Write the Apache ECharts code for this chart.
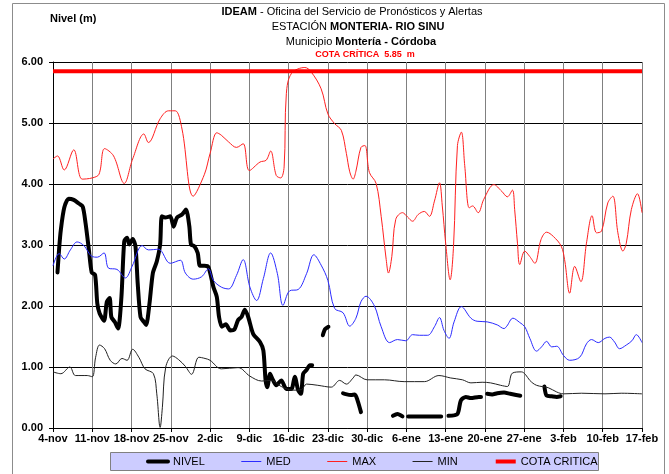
<!DOCTYPE html>
<html>
<head>
<meta charset="utf-8">
<script src="https://cdn.jsdelivr.net/npm/echarts@6/dist/echarts.min.js"></script>
<style>
html,body{margin:0;padding:0;background:#fff;}
#chart{width:669px;height:474px;}
</style>
</head>
<body>
<div id="chart"></div>
<script>
// x values are days counted from 4-nov
const tickLabels = ['4-nov','11-nov','18-nov','25-nov','2-dic','9-dic','16-dic','23-dic','30-dic','6-ene','13-ene','20-ene','27-ene','3-feb','10-feb','17-feb'];
const yTicks = [0, 1, 2, 3, 4, 5, 6];
const cotaCritica = 5.85;

const nivel = [[0.8,2.55],[1.1,2.95],[1.4,3.25],[2,3.61],[2.8,3.76],[3.7,3.74],[4.6,3.68],[5.3,3.63],[5.8,3.36],[6.4,2.92],[6.9,2.55],[7.5,2.51],[7.9,2.04],[8.3,1.88],[9.1,1.76],[9.6,2.07],[10.1,2.13],[10.4,1.82],[11,1.74],[11.6,1.63],[12.2,2.15],[12.7,3.06],[13.2,3.12],[13.6,3.01],[14.2,3.10],[14.7,2.98],[15.1,2.37],[15.6,1.82],[16.2,1.74],[16.6,1.69],[17.2,2.04],[17.8,2.54],[18.5,2.73],[19.1,3.01],[19.4,3.47],[20,3.45],[20.9,3.47],[21.5,3.30],[22.1,3.45],[23,3.50],[23.7,3.58],[24.3,3.31],[24.6,3.01],[25.2,2.98],[25.8,2.87],[26.2,2.66],[27,2.66],[27.7,2.64],[28.6,2.31],[29.2,2.15],[29.6,1.82],[30.1,1.66],[30.8,1.70],[31.6,1.60],[32.3,1.61],[33,1.77],[33.6,1.82],[34.2,1.94],[34.8,1.82],[35.7,1.54],[36.9,1.41],[37.5,1.27],[37.9,0.78],[38.2,0.67],[38.7,0.89],[39.1,0.81],[39.8,0.70],[40.7,0.78],[41.6,0.64],[42.5,0.64],[43.1,0.84],[43.7,0.62],[44.2,0.56],[44.6,0.89],[45.2,0.95],[45.8,1.03],[46.2,1.03],
  [47,'-'],
  [48.1,1.52],[48.5,1.62],[49.1,1.66],
  [50,'-'],
  [51.7,0.57],[52.0,0.56],[53.1,0.54],[53.8,0.55],[54.3,0.45],[54.9,0.26],
  [57,'-'],
  [60.6,0.20],[61.4,0.23],[62.3,0.19],
  [62.8,'-'],
  [63.3,0.19],[66,0.19],[69.2,0.19],
  [70,'-'],
  [70.5,0.20],[72.1,0.23],[72.7,0.45],[73.6,0.51],[74.5,0.49],[75.9,0.51],[76.3,0.51],
  [77,'-'],
  [77.4,0.56],[78.3,0.55],[79.2,0.57],[80.4,0.58],[81.5,0.56],[83.3,0.53],
  [85,'-'],
  [87.6,0.68],[88,0.53],[88.9,0.52],[89.8,0.51],[90.5,0.52]];

const med = [[0,2.66],[1.1,2.86],[2,2.77],[3.1,2.92],[4.3,3.05],[5.5,2.99],[7,2.81],[7.9,2.80],[9.1,2.87],[9.9,2.62],[11.4,2.60],[12.9,2.46],[14.1,2.65],[15.9,2.99],[17,2.92],[18.8,2.93],[20.9,2.70],[22.7,2.75],[23.6,2.54],[25,2.44],[26.5,2.48],[27.7,2.61],[28.6,2.42],[30,2.31],[31.3,2.28],[32.7,2.50],[33.9,2.76],[35.1,2.31],[36.3,2.09],[37.5,2.45],[38.8,2.87],[40,2.53],[41,2.01],[42.2,2.25],[43.7,2.27],[45.2,2.53],[46.5,2.84],[47.8,2.67],[49,2.42],[50.2,1.96],[51.7,1.89],[52.9,1.67],[54,1.80],[54.9,2.07],[55.8,2.16],[57.3,2.00],[58.5,1.66],[60,1.40],[61.4,1.45],[62.9,1.43],[64.1,1.53],[65.3,1.52],[66.8,1.52],[68,1.66],[68.9,1.81],[69.7,1.60],[70.6,1.47],[71.5,1.74],[72.8,1.99],[74.5,1.80],[75.6,1.75],[77.4,1.74],[79.2,1.69],[80.4,1.63],[80.9,1.67],[82,1.80],[83.2,1.73],[84.1,1.66],[85,1.47],[86.2,1.26],[87.1,1.33],[88,1.42],[88.9,1.33],[89.8,1.34],[91,1.19],[92.1,1.11],[93.9,1.16],[95.1,1.38],[96,1.45],[97.2,1.40],[98.4,1.47],[99.2,1.49],[100.1,1.41],[101,1.30],[102.2,1.36],[103.2,1.43],[104,1.53],[105,1.40]];

const max = [[0,4.41],[0.8,4.46],[2,4.23],[3.7,4.56],[5.2,4.08],[7,4.10],[8.2,4.16],[9.2,4.58],[10.8,4.46],[12.7,4.01],[14.2,4.41],[16.2,4.82],[17,4.68],[19.1,5.07],[20.6,5.20],[21.8,5.20],[23,4.90],[25,3.80],[27,4.16],[28,4.50],[29.2,4.84],[30,4.80],[31.3,4.69],[32.7,4.60],[33.9,4.66],[35,4.22],[36.9,4.36],[38,4.39],[38.8,4.54],[39.8,4.14],[40.6,4.10],[41.2,4.28],[41.6,5.48],[42.5,5.81],[44.9,5.91],[46,5.84],[47.8,5.56],[49,5.15],[50.2,4.99],[51.4,4.88],[52.3,4.50],[52.9,4.20],[53.5,4.08],[54,4.21],[54.9,4.60],[55.6,4.63],[56.4,4.19],[57.6,4.01],[58.5,3.47],[59.4,2.76],[59.8,2.54],[60.4,2.81],[61.1,3.42],[62.3,3.53],[63.2,3.46],[64.1,3.39],[65.1,3.50],[66.2,3.55],[67.1,3.47],[68,3.72],[68.9,4.02],[69.4,3.64],[70,3.03],[70.8,2.43],[71.4,2.98],[72.1,4.63],[72.8,4.85],[73.4,4.30],[74.2,3.61],[74.8,3.64],[75.8,3.53],[76.8,3.75],[78.6,3.99],[80,3.88],[81,3.79],[81.9,3.90],[82.3,3.58],[82.8,3.03],[83.2,2.68],[84.1,2.90],[85,2.81],[85.9,2.70],[87,3.09],[88,3.21],[89.2,3.14],[90.6,2.98],[91.2,2.76],[92.1,2.21],[93,2.65],[94.1,2.40],[95.1,3.03],[96.1,3.48],[96.9,3.20],[97.8,3.23],[98.9,3.69],[99.8,3.80],[100.7,3.20],[101.6,2.90],[102.2,3.03],[103.1,3.58],[104.2,3.84],[105,3.53]];

const min = [[0,0.92],[1.4,0.89],[3,1.00],[4,0.86],[6.1,0.86],[7,0.84],[7.6,1.16],[8.3,1.36],[9.2,1.30],[10.2,1.11],[11.2,1.05],[12.3,1.14],[13.2,1.11],[14.2,1.29],[15.3,1.16],[16.4,0.97],[17.9,0.89],[18.5,0.56],[19.1,0.01],[19.5,0.34],[20.1,1.00],[21.3,1.18],[22.4,1.12],[23.6,1.01],[24.7,0.88],[26,1.16],[27.1,1.14],[28,1.11],[30,0.97],[33,0.99],[35.1,0.85],[37.2,0.77],[38.9,0.78],[40.7,0.68],[42.8,0.62],[44.3,0.63],[45.2,0.72],[47.2,0.70],[49.6,0.67],[51.1,0.78],[52.3,0.72],[53.5,0.82],[54,0.87],[56,0.79],[59.1,0.79],[62.6,0.76],[66.2,0.76],[68.8,0.86],[70.9,0.82],[73,0.79],[74.5,0.74],[76.5,0.75],[78,0.74],[79.8,0.70],[81,0.68],[81.9,0.90],[83.5,0.92],[84.2,0.88],[85,0.78],[86.2,0.70],[88.3,0.66],[89.8,0.59],[91,0.56],[94.2,0.57],[98.4,0.56],[101.3,0.57],[105,0.56]];

const cotaDays = [0, 105];

const FONT = '"Liberation Sans", Arial, sans-serif';
const chart = echarts.init(document.getElementById('chart'), null, {renderer: 'canvas'});

const option = {
  animation: false,
  backgroundColor: '#ffffff',
  textStyle: {fontFamily: FONT},
  grid: {left: 53, right: 27, top: 62, bottom: 46, containLabel: false},
  graphic: [
    {type: 'rect', z: -10, shape: {x: 12.5, y: 3.5, width: 652, height: 490}, style: {fill: 'none', stroke: '#8c8c8c', lineWidth: 1}},
    {type: 'text', left: 50, top: 13, style: {text: 'Nivel (m)', font: 'bold 11px ' + FONT, fill: '#000'}},
    {type: 'text', x: 352, y: 12, style: {text: '{b|IDEAM} - Oficina del Servicio de Pronósticos y Alertas', align: 'center', verticalAlign: 'middle', font: '11px ' + FONT, fill: '#000', rich: {b: {fontWeight: 'bold', fontSize: 11, fontFamily: FONT}}}},
    {type: 'text', x: 358, y: 27, style: {text: 'ESTACIÓN {b|MONTERIA- RIO SINU}', align: 'center', verticalAlign: 'middle', font: '11px ' + FONT, fill: '#000', rich: {b: {fontWeight: 'bold', fontSize: 11, fontFamily: FONT}}}},
    {type: 'text', x: 361, y: 42, style: {text: 'Municipio {b|Montería - Córdoba}', align: 'center', verticalAlign: 'middle', font: '11px ' + FONT, fill: '#000', rich: {b: {fontWeight: 'bold', fontSize: 11, fontFamily: FONT}}}},
    {type: 'text', x: 365, y: 55, style: {text: 'COTA CRÍTICA  ' + cotaCritica.toFixed(2) + '  m', align: 'center', verticalAlign: 'middle', font: 'bold 9px ' + FONT, fill: '#ff0000'}},
    {type: 'rect', z: -5, shape: {x: 110.5, y: 452.5, width: 488, height: 18}, style: {fill: '#ccccff', stroke: '#808080', lineWidth: 1}}
  ],
  legend: {
    left: 146, top: 456,
    itemWidth: 20, itemHeight: 10, itemGap: 36,
    padding: 0,
    textStyle: {fontSize: 11, color: '#000', fontFamily: FONT},
    lineStyle: {width: 'inherit'},
    itemStyle: {opacity: 0},
    data: ['NIVEL', 'MED', 'MAX', 'MIN', 'COTA CRITICA']
  },
  xAxis: {
    type: 'value', min: 0, max: 105, interval: 7,
    axisLine: {show: true, lineStyle: {color: '#000', width: 1}},
    axisTick: {show: true, inside: false, length: 4, lineStyle: {color: '#000'}},
    axisLabel: {
      margin: 5, fontSize: 11, fontWeight: 'bold', color: '#000', fontFamily: FONT,
      formatter: function (v) { return tickLabels[Math.round(v / 7)] || ''; }
    },
    splitLine: {show: true, lineStyle: {color: '#808080', width: 1}}
  },
  yAxis: {
    type: 'value', min: yTicks[0], max: yTicks[yTicks.length - 1], interval: 1,
    axisLine: {show: true, lineStyle: {color: '#000', width: 1}},
    axisTick: {show: true, inside: false, length: 4, lineStyle: {color: '#000'}},
    axisLabel: {margin: 10, fontSize: 11, fontWeight: 'bold', color: '#000', fontFamily: FONT, formatter: function (v) { return v.toFixed(2); }},
    splitLine: {show: true, lineStyle: {color: '#000', width: 1}}
  },
  series: [
    {name: 'NIVEL', type: 'line', data: nivel, symbol: 'none', smooth: 0.25, connectNulls: false,
     lineStyle: {color: '#000', width: 4, join: 'round', cap: 'round'}, itemStyle: {color: '#000'}, z: 3},
    {name: 'MED', type: 'line', data: med, symbol: 'none', smooth: 0.35,
     lineStyle: {color: '#2b2bff', width: 1}, itemStyle: {color: '#2b2bff'}, z: 4},
    {name: 'MAX', type: 'line', data: max, symbol: 'none', smooth: 0.35,
     lineStyle: {color: '#ff2020', width: 1}, itemStyle: {color: '#ff2020'}, z: 4},
    {name: 'MIN', type: 'line', data: min, symbol: 'none', smooth: 0.35,
     lineStyle: {color: '#222', width: 1}, itemStyle: {color: '#222'}, z: 4},
    {name: 'COTA CRITICA', type: 'line', data: cotaDays.map(function (d) { return [d, cotaCritica]; }), symbol: 'none',
     lineStyle: {color: '#ff0000', width: 4}, itemStyle: {color: '#ff0000'}, z: 5}
  ]
};
chart.setOption(option);
</script>
</body>
</html>
